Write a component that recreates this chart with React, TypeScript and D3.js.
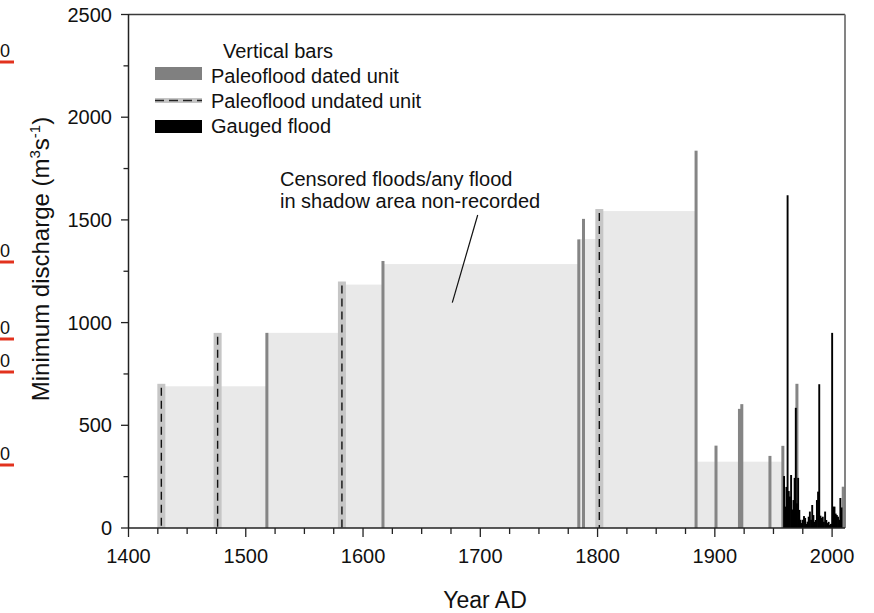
import React from 'react';
import * as d3 from 'd3';

// censored (shadow) periods: [start year, end year, threshold discharge]
const censoredStart = [1428, 1518, 1582, 1617, 1784, 1801, 1884];
const censoredEnd = [1518, 1582, 1617, 1784, 1801, 1884, 1959];
const censoredQ = [690, 950, 1185, 1285, 1407, 1543, 323];

// paleoflood dated units
const datedYears = [1518, 1617, 1784, 1788, 1884, 1901, 1921, 1923, 1947, 1958, 1970, 2009.5];
const datedQ = [950, 1300, 1405, 1505, 1837, 401, 580, 603, 351, 400, 702, 201];

// paleoflood undated units
const undatedYears = [1428, 1476, 1582, 1801.5];
const undatedQ = [702, 950, 1200, 1553];

// gauged floods (annual)
const gaugedYears = [
  1959, 1960, 1961, 1962, 1963, 1964, 1965, 1966, 1967, 1968, 1969, 1970, 1971, 1972, 1973,
  1974, 1975, 1976, 1977, 1978, 1979, 1980, 1981, 1982, 1983, 1984, 1985, 1986, 1987, 1988,
  1989, 1990, 1991, 1992, 1993, 1994, 1995, 1996, 1997, 1998, 1999, 2000, 2001, 2002, 2003,
  2004, 2005, 2006, 2007, 2008,
];
const gaugedQ = [
  253, 104, 200, 1620, 180, 153, 258, 90, 136, 244, 585, 120, 244, 88, 40,
  24, 40, 58, 49, 20, 31, 55, 80, 40, 112, 63, 30, 39, 136, 177,
  700, 60, 49, 55, 30, 80, 39, 24, 30, 15, 20, 950, 104, 104, 70,
  63, 55, 40, 146, 100,
];

const xTicks = [1400, 1500, 1600, 1700, 1800, 1900, 2000];
const yTicks = [0, 500, 1000, 1500, 2000, 2500];

// stray marks of the neighbouring panel cut at the left edge
const strayMarks = [62, 262, 339, 372, 465];

const FONT = '"Liberation Sans", Arial, Helvetica, sans-serif';

const App = () => {
  const width = 874;
  const height = 613;

  const x = d3.scaleLinear().domain([1400, 2011]).range([128.5, 845]);
  const y = d3.scaleLinear().domain([0, 2500]).range([528, 14.5]);

  const minorX = d3.range(1400, 2011, 25);
  const minorY = d3.range(0, 2501, 250);

  return (
    <div style={{ position: 'absolute', left: 0, top: 0 }}>
      <svg width={width} height={height} style={{ display: 'block', background: '#fff' }}>
        {/* stray marks */}
        {strayMarks.map((m, i) => (
          <g key={'s' + i}>
            <text x={0} y={m - 5} fontSize={18} fontFamily={FONT} fill="#111">0</text>
            <line x1={0} x2={14} y1={m} y2={m} stroke="#e2321e" strokeWidth={3} />
          </g>
        ))}

        {/* censored shadow */}
        {censoredStart.map((s, i) => (
          <rect
            key={'c' + i}
            x={x(s)}
            width={x(censoredEnd[i]) - x(s)}
            y={y(censoredQ[i])}
            height={y(0) - y(censoredQ[i])}
            fill="#e9e9e9"
          />
        ))}

        {/* undated units */}
        {undatedYears.map((yr, i) => (
          <g key={'u' + i}>
            <rect x={x(yr) - 4} width={8} y={y(undatedQ[i])} height={y(0) - y(undatedQ[i])} fill="#c6c6c6" />
            <line
              x1={x(yr)}
              x2={x(yr)}
              y1={y(undatedQ[i]) + 4}
              y2={y(0)}
              stroke="#111"
              strokeWidth={1.4}
              strokeDasharray="8,5"
            />
          </g>
        ))}

        {/* dated units */}
        {datedYears.map((yr, i) => (
          <rect key={'d' + i} x={x(yr) - 1.5} width={3} y={y(datedQ[i])} height={y(0) - y(datedQ[i])} fill="#858585" />
        ))}

        {/* gauged floods */}
        {gaugedYears.map((yr, i) => (
          <rect key={'g' + i} x={x(yr) - 0.9} width={1.9} y={y(gaugedQ[i])} height={y(0) - y(gaugedQ[i])} fill="#000" />
        ))}

        {/* frame top and right */}
        <line x1={128.5} x2={845} y1={14.5} y2={14.5} stroke="#3a3a3a" strokeWidth={1.5} />
        <line x1={845} x2={845} y1={14.5} y2={528} stroke="#777" strokeWidth={1.8} />

        {/* y axis */}
        <line x1={128.5} x2={128.5} y1={14} y2={528} stroke="#222" strokeWidth={1.5} />
        {minorY.map((v) => (
          <line key={'ym' + v} x1={v % 500 === 0 ? 121 : 123.5} x2={128.5} y1={y(v)} y2={y(v)} stroke="#222" strokeWidth={1.3} />
        ))}
        {yTicks.map((v) => (
          <text key={'yt' + v} x={112} y={y(v) + 7} textAnchor="end" fontSize={20} fontFamily={FONT} fill="#111">
            {v}
          </text>
        ))}

        {/* x axis */}
        <line x1={128.5} x2={845} y1={528} y2={528} stroke="#222" strokeWidth={1.5} />
        {minorX.map((v) => (
          <line key={'xm' + v} x1={x(v)} x2={x(v)} y1={528} y2={v % 100 === 0 ? 537 : 534} stroke="#222" strokeWidth={1.3} />
        ))}
        {xTicks.map((v) => (
          <text key={'xt' + v} x={x(v)} y={563} textAnchor="middle" fontSize={20} fontFamily={FONT} fill="#111">
            {v}
          </text>
        ))}

        {/* axis titles */}
        <text x={485} y={608} textAnchor="middle" fontSize={23} fontFamily={FONT} fill="#111">
          Year AD
        </text>
        <text
          transform="translate(49, 259) rotate(-90)"
          textAnchor="middle"
          fontSize={24}
          fontFamily={FONT}
          fill="#111"
        >
          Minimum discharge (m
          <tspan fontSize={15} dy={-9}>3</tspan>
          <tspan dy={9}>s</tspan>
          <tspan fontSize={15} dy={-9}>-1</tspan>
          <tspan dy={9}>)</tspan>
        </text>

        {/* legend */}
        <text x={223} y={58} fontSize={20} fontFamily={FONT} fill="#111">Vertical bars</text>
        <rect x={155} y={67} width={47} height={13} fill="#808080" />
        <text x={211} y={83} fontSize={20} fontFamily={FONT} fill="#111">Paleoflood dated unit</text>
        <rect x={155} y={98} width={47} height={5} fill="#c4c4c4" />
        <line x1={155} x2={202} y1={100.5} y2={100.5} stroke="#222" strokeWidth={1.4} strokeDasharray="9,5" />
        <text x={211} y={108} fontSize={20} fontFamily={FONT} fill="#111">Paleoflood undated unit</text>
        <rect x={155} y={120} width={47} height={13} fill="#000" />
        <text x={211} y={133} fontSize={20} fontFamily={FONT} fill="#111">Gauged flood</text>

        {/* annotation */}
        <text x={280} y={186} fontSize={20} fontFamily={FONT} fill="#111">Censored floods/any flood</text>
        <text x={280} y={208} fontSize={20} fontFamily={FONT} fill="#111">in shadow area non-recorded</text>
        <line x1={477.7} y1={215} x2={452.3} y2={302.7} stroke="#111" strokeWidth={1.2} />
      </svg>
    </div>
  );
};

export default App;
